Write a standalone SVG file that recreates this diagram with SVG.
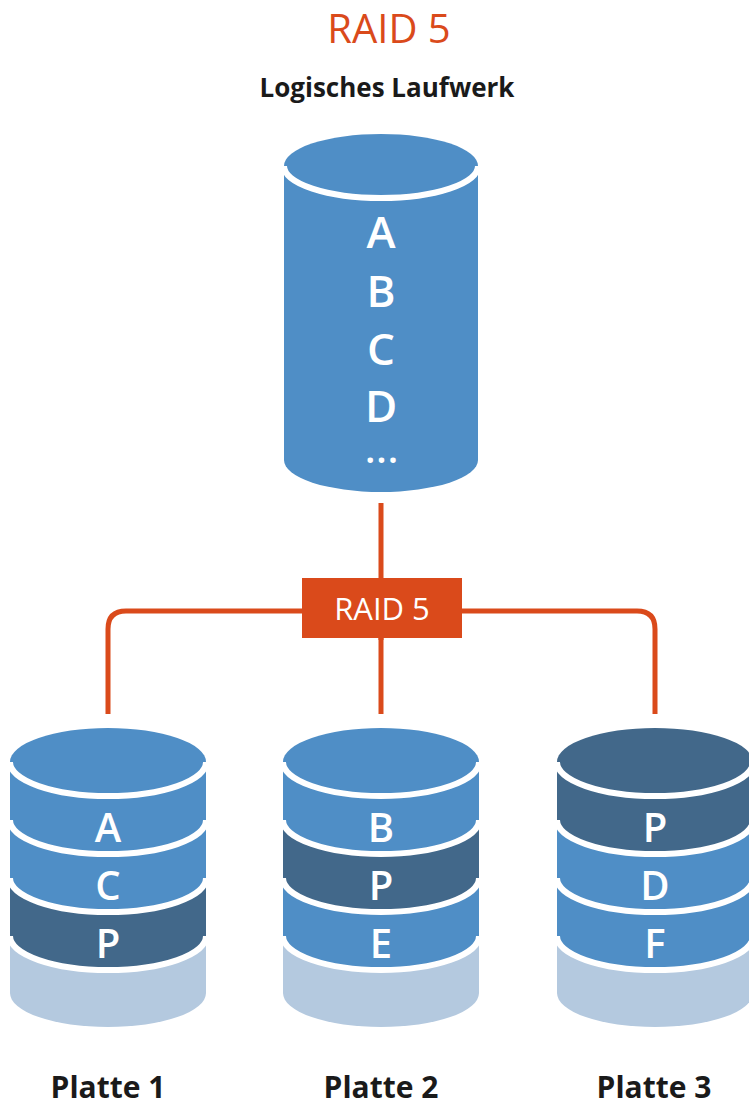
<svg xmlns="http://www.w3.org/2000/svg" width="749" height="1106" viewBox="0 0 749 1106">
  <style>
    .light { fill: #4f8ec6; }
    .dark { fill: #42688a; }
    .pale { fill: #b4c9df; }
    .sep { fill: none; stroke: #ffffff; stroke-width: 6; }
    .letter { font-family: "Open Sans", "Noto Sans", sans-serif; font-weight: 600; fill: #ffffff; text-anchor: middle; }
    .big { font-size: 44px; }
    .small { font-size: 40px; }
    .label { font-family: "Open Sans", "Noto Sans", sans-serif; font-weight: 700; fill: #1a1a1a; text-anchor: middle; }
    .wire { fill: none; stroke: #da4a1b; stroke-width: 5; }
  </style>

  <!-- headings -->
  <text x="389" y="43" font-family="Open Sans, Noto Sans, sans-serif" font-size="40" fill="#da4a1b" text-anchor="middle">RAID 5</text>
  <text class="label" x="387" y="97" font-size="26">Logisches Laufwerk</text>

  <!-- logical volume -->
  <g id="logical-drive">
    <path class="light" d="M284,166 A97,32 0 0 1 478,166 V460 A97,32 0 0 1 284,460 Z"/>
    <path class="sep" d="M284,166 A97,32 0 0 0 478,166"/>
    <text class="letter big" x="381" y="248">A</text>
    <text class="letter big" x="381" y="307">B</text>
    <text class="letter big" x="381" y="365">C</text>
    <text class="letter big" x="381" y="422">D</text>
    <text class="letter" x="382" y="463" font-size="38" letter-spacing="1">...</text>
  </g>

  <!-- connectors -->
  <g id="connectors">
    <path class="wire" d="M381,503 V640"/>
    <path class="wire" d="M381,636 V714"/>
    <path class="wire" d="M320,611 H126 Q108,611 108,629 V714"/>
    <path class="wire" d="M440,611 H637 Q655,611 655,629 V714"/>
  </g>

  <!-- controller -->
  <g id="raid-controller">
    <rect x="302" y="578" width="160" height="60" fill="#da4a1b"/>
    <text x="382" y="620" font-family="Open Sans, Noto Sans, sans-serif" font-size="31" fill="#ffffff" text-anchor="middle">RAID 5</text>
  </g>

  <!-- disk 1 -->
  <g id="disk-1">
    <path class="pale" d="M10,936 A98,34 0 0 1 206,936 V993 A98,34 0 0 1 10,993 Z"/>
    <path class="dark" d="M10,878 A98,34 0 0 1 206,878 V936 A98,34 0 0 1 10,936 Z"/>
    <path class="light" d="M10,820 A98,34 0 0 1 206,820 V878 A98,34 0 0 1 10,878 Z"/>
    <path class="light" d="M10,762 A98,34 0 0 1 206,762 V820 A98,34 0 0 1 10,820 Z"/>
    <path class="sep" d="M10,762 A98,34 0 0 0 206,762"/>
    <path class="sep" d="M10,820 A98,34 0 0 0 206,820"/>
    <path class="sep" d="M10,878 A98,34 0 0 0 206,878"/>
    <path class="sep" d="M10,936 A98,34 0 0 0 206,936"/>
    <text class="letter small" x="108" y="842">A</text>
    <text class="letter small" x="108" y="900">C</text>
    <text class="letter small" x="108" y="958">P</text>
    <text class="label" x="108" y="1098" font-size="30">Platte 1</text>
  </g>

  <!-- disk 2 -->
  <g id="disk-2">
    <path class="pale" d="M283,936 A98,34 0 0 1 479,936 V993 A98,34 0 0 1 283,993 Z"/>
    <path class="light" d="M283,878 A98,34 0 0 1 479,878 V936 A98,34 0 0 1 283,936 Z"/>
    <path class="dark" d="M283,820 A98,34 0 0 1 479,820 V878 A98,34 0 0 1 283,878 Z"/>
    <path class="light" d="M283,762 A98,34 0 0 1 479,762 V820 A98,34 0 0 1 283,820 Z"/>
    <path class="sep" d="M283,762 A98,34 0 0 0 479,762"/>
    <path class="sep" d="M283,820 A98,34 0 0 0 479,820"/>
    <path class="sep" d="M283,878 A98,34 0 0 0 479,878"/>
    <path class="sep" d="M283,936 A98,34 0 0 0 479,936"/>
    <text class="letter small" x="381" y="842">B</text>
    <text class="letter small" x="381" y="900">P</text>
    <text class="letter small" x="381" y="958">E</text>
    <text class="label" x="381" y="1098" font-size="30">Platte 2</text>
  </g>

  <!-- disk 3 -->
  <g id="disk-3">
    <path class="pale" d="M557,936 A98,34 0 0 1 753,936 V993 A98,34 0 0 1 557,993 Z"/>
    <path class="light" d="M557,878 A98,34 0 0 1 753,878 V936 A98,34 0 0 1 557,936 Z"/>
    <path class="light" d="M557,820 A98,34 0 0 1 753,820 V878 A98,34 0 0 1 557,878 Z"/>
    <path class="dark" d="M557,762 A98,34 0 0 1 753,762 V820 A98,34 0 0 1 557,820 Z"/>
    <path class="sep" d="M557,762 A98,34 0 0 0 753,762"/>
    <path class="sep" d="M557,820 A98,34 0 0 0 753,820"/>
    <path class="sep" d="M557,878 A98,34 0 0 0 753,878"/>
    <path class="sep" d="M557,936 A98,34 0 0 0 753,936"/>
    <text class="letter small" x="655" y="842">P</text>
    <text class="letter small" x="655" y="900">D</text>
    <text class="letter small" x="655" y="958">F</text>
    <text class="label" x="654" y="1098" font-size="30">Platte 3</text>
  </g>
</svg>
